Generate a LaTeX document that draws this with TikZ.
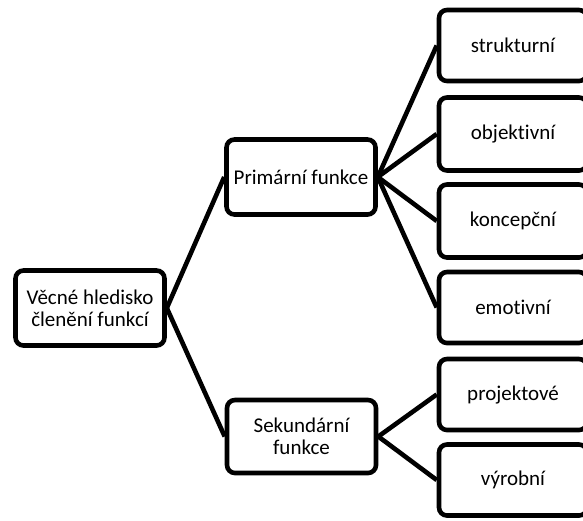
\documentclass[tikz,border=0pt]{standalone}
\usepackage{fontspec}
\setmainfont{Carlito}[Ligatures={NoCommon,NoContextual}]
\usepackage{tikz}
\usetikzlibrary{positioning}

\tikzset{
  box/.style={draw=black,line width=4.6pt,rounded corners=8pt,fill=white,
    align=center,inner sep=2pt,font=\fontsize{21}{22}\selectfont},
  mainbox/.style={box,minimum width=149pt,minimum height=75pt},
  leafbox/.style={box,minimum width=148pt,minimum height=71pt},
  link/.style={line width=4.6pt}
}

\begin{document}
\begin{tikzpicture}[x=1pt,y=1pt]
\useasboundingbox (0,0) rectangle (583,-520);
\clip (0,0) rectangle (583,-520);
% main boxes
\node[mainbox] (root) at (90,-308) {Věcné hledisko\\členění funkcí};
\node[mainbox] (prim) at (301,-177) {Primární funkce};
\node[mainbox,minimum height=73pt] (sek) at (301.5,-436.5) {Sekundární\\funkce};
% leaves
\node[leafbox] (strukt) at (513,-45.5) {strukturní};
\node[leafbox,minimum height=73pt] (obj) at (513,-134) {objektivní};
\node[leafbox,minimum height=73pt] (konc) at (513,-221) {koncepční};
\node[leafbox] (emot) at (513,-307.5) {emotivní};
\node[leafbox] (proj) at (513,-394.5) {projektové};
\node[leafbox] (vyr) at (513,-480) {výrobní};
% links
\draw[link] (root.east) -- (prim.west);
\draw[link] (root.east) -- (sek.west);
\draw[link] (prim.east) -- (strukt.west);
\draw[link] (prim.east) -- (obj.west);
\draw[link] (prim.east) -- (konc.west);
\draw[link] (prim.east) -- (emot.west);
\draw[link] (sek.east) -- (proj.west);
\draw[link] (sek.east) -- (vyr.west);
\end{tikzpicture}
\end{document}
